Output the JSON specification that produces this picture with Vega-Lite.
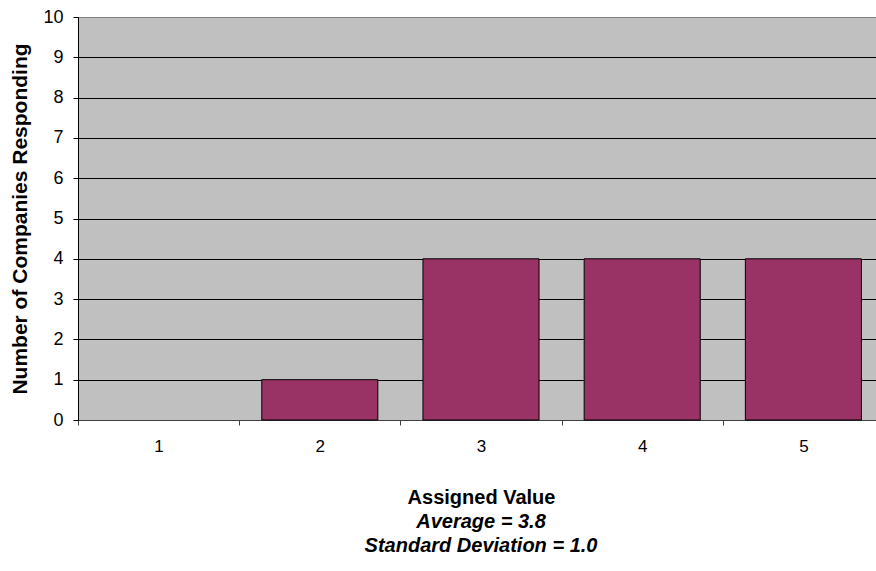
{
  "$schema": "https://vega.github.io/schema/vega-lite/v6.json",
  "autosize": {"type": "none"},
  "width": 806,
  "height": 403,
  "padding": {"left": 78, "top": 17, "right": 0, "bottom": 151},
  "background": "white",
  "config": {
    "font": "Liberation Sans",
    "view": {"fill": "#C0C0C0", "stroke": "#808080", "strokeWidth": 1}
  },
  "title": {
    "text": ["Average = 3.8", "Standard Deviation = 1.0"],
    "orient": "bottom",
    "anchor": "middle",
    "font": "Liberation Sans",
    "fontSize": 20,
    "fontWeight": "bold",
    "fontStyle": "italic",
    "lineHeight": 24,
    "color": "black",
    "offset": 5
  },
  "data": {
    "values": [
      {"value": "1", "count": 0},
      {"value": "2", "count": 1},
      {"value": "3", "count": 4},
      {"value": "4", "count": 4},
      {"value": "5", "count": 4}
    ]
  },
  "transform": [{"filter": "datum.count > 0"}],
  "mark": {"type": "bar", "color": "#993366", "stroke": "black", "strokeWidth": 1, "width": {"band": 0.72}},
  "encoding": {
    "x": {
      "field": "value",
      "type": "ordinal",
      "scale": {"domain": ["1", "2", "3", "4", "5"], "paddingInner": 0, "paddingOuter": 0},
      "axis": {
        "title": "Assigned Value",
        "titleFont": "Liberation Sans",
        "titleFontSize": 20,
        "titleFontWeight": "bold",
        "titleColor": "black",
        "titleY": 77,
        "titleBaseline": "middle",
        "labelAngle": 0,
        "labelFontSize": 17,
        "labelColor": "black",
        "labelPadding": 13,
        "tickBand": "extent",
        "tickSize": 5,
        "tickColor": "#404040",
        "domainColor": "#404040",
        "grid": false
      }
    },
    "y": {
      "field": "count",
      "type": "quantitative",
      "scale": {"domain": [0, 10], "nice": false},
      "axis": {
        "title": "Number of Companies Responding",
        "titleFont": "Liberation Sans",
        "titleFontSize": 21,
        "titleFontWeight": "bold",
        "titleColor": "black",
        "titleX": -58,
        "titleBaseline": "middle",
        "values": [0, 1, 2, 3, 4, 5, 6, 7, 8, 9, 10],
        "labelFontSize": 18,
        "labelColor": "black",
        "labelPadding": 10,
        "tickSize": 5,
        "tickColor": "black",
        "domainColor": "black",
        "grid": true,
        "gridColor": {"condition": {"test": "datum.value == 10", "value": "#808080"}, "value": "black"},
        "gridOpacity": 1,
        "gridWidth": 1
      }
    }
  }
}
